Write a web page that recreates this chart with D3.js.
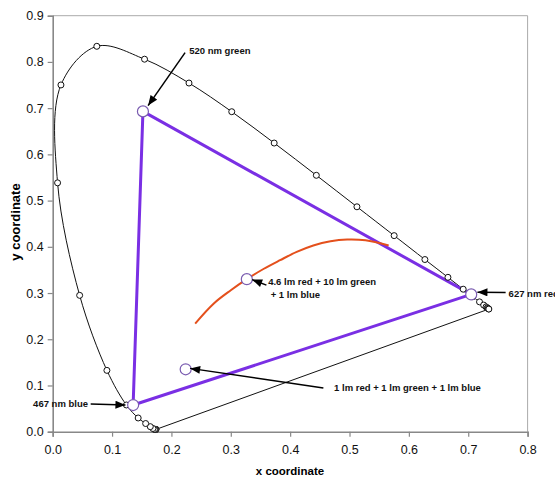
<!DOCTYPE html>
<html>
<head>
<meta charset="utf-8">
<script src="https://cdn.jsdelivr.net/npm/d3@7"></script>
<style>
  body { margin: 0; background: #fff; }
  svg { font-family: "Liberation Sans", Arial, sans-serif; }
  .tick text { font-size: 12.5px; fill: #111; }
  .note { font-size: 9.5px; font-weight: bold; fill: #111; }
</style>
</head>
<body>
<svg id="chart" width="555" height="479"></svg>
<script>
// spectral locus, CIE 1931, one marker every 10 nm
var wavelengths = [380, 390, 400, 410, 420, 430, 440, 450, 460, 470, 480, 490, 500, 510, 520, 530, 540,
                   550, 560, 570, 580, 590, 600, 610, 620, 630, 640, 650, 660, 670, 680, 690, 700]
var locusX = [0.1741, 0.1738, 0.1733, 0.1726, 0.1714, 0.1689, 0.1644, 0.1566, 0.1440, 0.1241, 0.0913,
              0.0454, 0.0082, 0.0139, 0.0743, 0.1547, 0.2296, 0.3016, 0.3731, 0.4441, 0.5125, 0.5752,
              0.6270, 0.6658, 0.6915, 0.7079, 0.7190, 0.7260, 0.7300, 0.7320, 0.7334, 0.7344, 0.7347]
var locusY = [0.0050, 0.0049, 0.0048, 0.0048, 0.0051, 0.0069, 0.0109, 0.0177, 0.0297, 0.0578, 0.1327,
              0.2950, 0.5384, 0.7502, 0.8338, 0.8059, 0.7543, 0.6923, 0.6245, 0.5547, 0.4866, 0.4242,
              0.3725, 0.3340, 0.3083, 0.2920, 0.2809, 0.2740, 0.2700, 0.2680, 0.2666, 0.2656, 0.2653]

// LED primaries (triangle corners): green, red, blue
var primaryNames = ['520 nm green', '627 nm red', '467 nm blue']
var primaryX = [0.152, 0.705, 0.1355]
var primaryY = [0.693, 0.297, 0.0577]

// mixtures
var mixNames = ['1 lm red + 1 lm green + 1 lm blue', '4.6 lm red + 10 lm green + 1 lm blue']
var mixX = [0.224, 0.327]
var mixY = [0.135, 0.330]

// blackbody curve
var planckX = [0.240, 0.271, 0.300, 0.327, 0.355, 0.383, 0.411, 0.439, 0.468, 0.496, 0.527, 0.566]
var planckY = [0.234, 0.277, 0.306, 0.330, 0.352, 0.371, 0.389, 0.403, 0.412, 0.4156, 0.414, 0.403]

var xTicks = [0, 0.1, 0.2, 0.3, 0.4, 0.5, 0.6, 0.7, 0.8]
var yTicks = [0, 0.1, 0.2, 0.3, 0.4, 0.5, 0.6, 0.7, 0.8, 0.9]

var plotL = 52.7, plotR = 527.6, plotT = 15.7, plotB = 431.7

var svg = d3.select('#chart')
var x = d3.scaleLinear().domain([0, 0.8]).range([plotL, plotR])
var y = d3.scaleLinear().domain([0, 0.9]).range([plotB, plotT])

// frame
svg.append('line').attr('x1', plotL).attr('x2', plotR).attr('y1', plotT).attr('y2', plotT)
    .attr('stroke', '#aaa').attr('stroke-width', 1)
svg.append('line').attr('x1', plotR).attr('x2', plotR).attr('y1', plotT).attr('y2', plotB)
    .attr('stroke', '#aaa').attr('stroke-width', 1)

var xAxis = svg.append('g').attr('transform', 'translate(0,' + plotB + ')')
    .call(d3.axisBottom(x).tickValues(xTicks).tickFormat(d3.format('.1f')).tickSizeOuter(0).tickSize(5).tickPadding(8))
var yAxis = svg.append('g').attr('transform', 'translate(' + plotL + ',0)')
    .call(d3.axisLeft(y).tickValues(yTicks).tickFormat(d3.format('.1f')).tickSizeOuter(0).tickSize(5).tickPadding(4))
svg.selectAll('.domain').attr('stroke', '#888').attr('stroke-width', 1.6)
svg.selectAll('.tick line').attr('stroke', '#888').attr('stroke-width', 1.2)

svg.append('text').attr('x', 290).attr('y', 475).attr('text-anchor', 'middle')
    .style('font-size', '11.5px').style('font-weight', 'bold').text('x coordinate')
svg.append('text').attr('transform', 'translate(20,222) rotate(-90)').attr('text-anchor', 'middle')
    .style('font-size', '13px').style('font-weight', 'bold').text('y coordinate')

// spectral locus + purple line
var locus = wavelengths.map(function(w, i) { return [locusX[i], locusY[i]] })
var line = d3.line().x(function(d) { return x(d[0]) }).y(function(d) { return y(d[1]) })
svg.append('path').datum(locus).attr('d', line.curve(d3.curveCatmullRom.alpha(0.5)))
    .attr('fill', 'none').attr('stroke', '#111').attr('stroke-width', 1)
svg.append('path').datum([locus[0], locus[locus.length - 1]]).attr('d', line.curve(d3.curveLinear))
    .attr('fill', 'none').attr('stroke', '#111').attr('stroke-width', 1)

// gamut triangle
var tri = primaryX.map(function(v, i) { return [v, primaryY[i]] })
svg.append('path').datum(tri).attr('d', line.curve(d3.curveLinearClosed))
    .attr('fill', 'none').attr('stroke', '#7a2fe4').attr('stroke-width', 3).attr('stroke-linejoin', 'round')

svg.selectAll('circle.locus').data(locus).enter().append('circle')
    .attr('class', 'locus')
    .attr('cx', function(d) { return x(d[0]) }).attr('cy', function(d) { return y(d[1]) })
    .attr('r', 3).attr('fill', '#fff').attr('stroke', '#111').attr('stroke-width', 1)

// blackbody curve
var planck = planckX.map(function(v, i) { return [v, planckY[i]] })
svg.append('path').datum(planck).attr('d', line.curve(d3.curveCatmullRom.alpha(0.5)))
    .attr('fill', 'none').attr('stroke', '#e4501c').attr('stroke-width', 2)

// big markers
var big = tri.concat(mixX.map(function(v, i) { return [v, mixY[i]] }))
svg.selectAll('circle.big').data(big).enter().append('circle')
    .attr('class', 'big')
    .attr('cx', function(d) { return x(d[0]) }).attr('cy', function(d) { return y(d[1]) })
    .attr('r', 5.5).attr('fill', '#fff').attr('stroke', '#7a5cb0').attr('stroke-width', 1.2)

// annotations: arrow from -> to, label anchor
svg.append('defs').append('marker').attr('id', 'head')
    .attr('viewBox', '0 0 10 8').attr('refX', 10).attr('refY', 4)
    .attr('markerWidth', 11).attr('markerHeight', 8).attr('markerUnits', 'userSpaceOnUse')
    .attr('orient', 'auto')
    .append('path').attr('d', 'M0,0 L10,4 L0,8 Z').attr('fill', '#000')

var notes = [
    {from: [0.223, 0.820], to: [0.1607, 0.7056], tx: 0.230, ty: 0.824, anchor: 'start', lines: [primaryNames[0]]},
    {from: [0.763, 0.301], to: [0.7155, 0.3017], tx: 0.768, ty: 0.299, anchor: 'start', lines: [primaryNames[1]]},
    {from: [0.064, 0.0600], to: [0.1225, 0.0577], tx: 0.0595, ty: 0.0598, anchor: 'end', lines: [primaryNames[2]]},
    {from: [0.456, 0.0944], to: [0.2315, 0.1370], tx: 0.474, ty: 0.0959, anchor: 'start', lines: [mixNames[0]]},
    {from: [0.360, 0.3170], to: [0.3360, 0.3290], tx: 0.363, ty: 0.324, anchor: 'start',
     lines: ['4.6 lm red + 10 lm green', '+ 1 lm blue']}
]
notes.forEach(function(n) {
    svg.append('line')
        .attr('x1', x(n.from[0])).attr('y1', y(n.from[1]))
        .attr('x2', x(n.to[0])).attr('y2', y(n.to[1]))
        .attr('stroke', '#000').attr('stroke-width', 1.5).attr('marker-end', 'url(#head)')
    var t = svg.append('text').attr('class', 'note')
        .attr('x', x(n.tx)).attr('y', y(n.ty)).attr('text-anchor', n.anchor)
    n.lines.forEach(function(s, i) {
        t.append('tspan').attr('x', x(n.tx) + (i ? 2.5 : 0)).attr('dy', i ? '1.3em' : '0.35em').text(s)
    })
})
</script>
</body>
</html>
